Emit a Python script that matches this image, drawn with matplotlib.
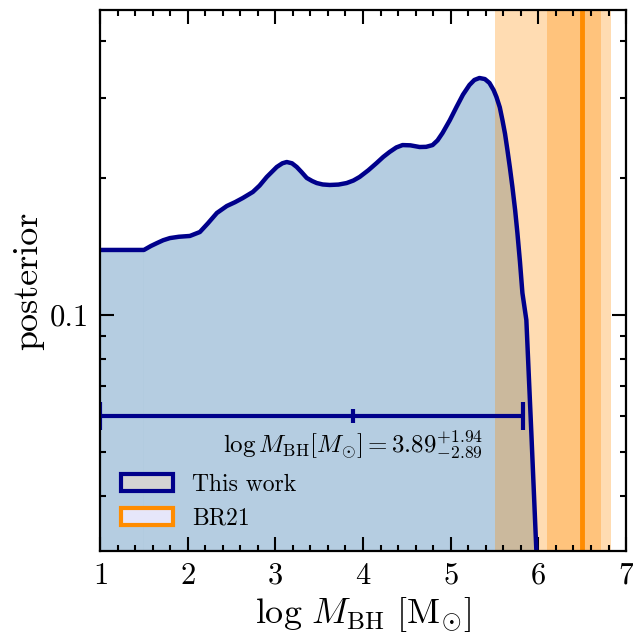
import matplotlib
matplotlib.use('Agg')
import matplotlib.pyplot as plt
from matplotlib.patches import Patch
from matplotlib.ticker import FixedLocator, FormatStrFormatter, NullFormatter, LogLocator

# posterior of log M_BH
logm = [1.000, 1.501, 1.580, 1.649, 1.720, 1.797, 1.900, 2.025, 2.139, 2.230, 2.333,
        2.446, 2.540, 2.629, 2.743, 2.820, 2.902, 3.016, 3.080, 3.130, 3.190, 3.244,
        3.300, 3.358, 3.420, 3.472, 3.540, 3.620, 3.720, 3.813, 3.890, 3.961, 4.060,
        4.155, 4.230, 4.303, 4.380, 4.451, 4.540, 4.645, 4.720, 4.793, 4.850, 4.907,
        4.990, 5.066, 5.140, 5.214, 5.270, 5.328, 5.390, 5.442, 5.490, 5.522, 5.560,
        5.590, 5.620, 5.647, 5.675, 5.704, 5.735, 5.761, 5.790, 5.818, 5.863, 5.920,
        5.977, 6.000]
post = [0.1390, 0.1390, 0.1418, 0.1439, 0.1460, 0.1476, 0.1486, 0.1492, 0.1522, 0.1590, 0.1676,
        0.1736, 0.1770, 0.1808, 0.1864, 0.1925, 0.2011, 0.2115, 0.2155, 0.2169, 0.2155, 0.2115,
        0.2060, 0.2001, 0.1970, 0.1950, 0.1936, 0.1931, 0.1935, 0.1950, 0.1975, 0.2011, 0.2080,
        0.2158, 0.2225, 0.2282, 0.2335, 0.2363, 0.2360, 0.2340, 0.2342, 0.2363, 0.2420, 0.2512,
        0.2680, 0.2865, 0.3050, 0.3203, 0.3285, 0.3318, 0.3300, 0.3236, 0.3120, 0.3014, 0.2860,
        0.2683, 0.2500, 0.2305, 0.2110, 0.1911, 0.1700, 0.1514, 0.1310, 0.1118, 0.0975, 0.0550,
        0.0304, 0.0270]

# summary of this work
med = 3.89
err_lo = 2.89
err_hi = 1.94
bar_y = 0.06

# BR21
br21 = 6.50
br21_1sig = (6.10, 6.72)
br21_2sig = (5.50, 6.83)

plt.rcParams['font.family'] = 'serif'
plt.rcParams['font.serif'] = ['cmr10']
plt.rcParams['mathtext.fontset'] = 'cm'
plt.rcParams['axes.formatter.use_mathtext'] = True

fig = plt.figure(figsize=(6.33, 6.42), dpi=100)
ax = fig.add_axes([0.158, 0.1417, 0.831, 0.8427])

# the flat part below 1.5 and the rest were filled separately
ax.fill_between(logm[:2], 1e-3, post[:2], color='steelblue', alpha=0.4, lw=0)
ax.fill_between(logm[1:], 1e-3, post[1:], color='steelblue', alpha=0.4, lw=0)
ax.plot(logm, post, color='darkblue', lw=3.2, solid_joinstyle='round')

ax.axvspan(*br21_2sig, color='darkorange', alpha=0.3, lw=0)
ax.axvspan(*br21_1sig, color='darkorange', alpha=0.3, lw=0)
ax.axvline(br21, color='darkorange', lw=3.5)

ax.errorbar([med], [bar_y], xerr=[[err_lo], [err_hi]], fmt='|', color='darkblue',
            ms=10, mew=3, elinewidth=3, capsize=10, capthick=3)
ax.text(med, 0.0565, r'$\log M_{\rm BH}[M_{\odot}] = 3.89^{+1.94}_{-2.89}$',
        ha='center', va='top', fontsize=18)

ax.set_yscale('log')
ax.set_xlim(1, 7)
ax.set_ylim(0.0303, 0.468)
ax.yaxis.set_major_locator(FixedLocator([0.1]))
ax.yaxis.set_major_formatter(FormatStrFormatter('%g'))
ax.yaxis.set_minor_locator(LogLocator(subs=range(2, 10)))
ax.yaxis.set_minor_formatter(NullFormatter())
ax.set_xticks([1, 2, 3, 4, 5, 6, 7])
ax.xaxis.set_minor_locator(FixedLocator([1 + 0.2 * i for i in range(31)]))

ax.tick_params(which='both', direction='in', top=True, right=True, labelsize=22, width=1.5)
ax.tick_params(which='major', length=10, pad=8)
ax.tick_params(which='minor', length=4)
for s in ax.spines.values():
    s.set_linewidth(1.6)

ax.set_xlabel(r'$\log\,M_{\rm BH}\ [\rm M_{\odot}]$', fontsize=26)
ax.set_ylabel('posterior', fontsize=26)

handles = [Patch(facecolor='lightgray', edgecolor='darkblue', lw=3, label='This work'),
           Patch(facecolor='lavender', edgecolor='darkorange', lw=3, label='BR21')]
ax.legend(handles=handles, loc='lower left', frameon=False, fontsize=17, handlelength=2.2)

plt.savefig('out.png', dpi=100)
plt.close()
